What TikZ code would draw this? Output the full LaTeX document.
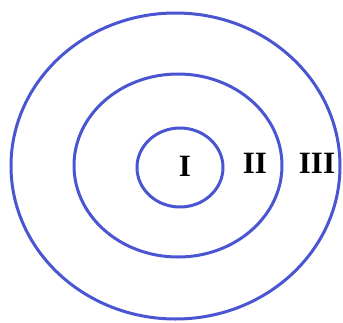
\documentclass[tikz,border=0pt]{standalone}
\usepackage{fontspec}
\setmainfont{Liberation Serif}
\usetikzlibrary{positioning}
\definecolor{ringblue}{HTML}{4A55D2}
\tikzset{
  ring/.style={draw=ringblue, line width=3pt},
  zone/.style={font=\bfseries\fontsize{31}{31}\selectfont, text=black, inner sep=0pt}
}
\begin{document}
\begin{tikzpicture}[x=1pt,y=-1pt]
  \useasboundingbox (0,0) rectangle (343,322);
  % rings
  \coordinate (outerc) at (175.5,166);
  \coordinate (middlec) at (178,165.5);
  \coordinate (innerc) at (180,167.5);
  \draw[ring] (outerc) ellipse (164.5 and 153);
  \draw[ring] (middlec) ellipse (104 and 91.5);
  \draw[ring] (innerc) ellipse (43 and 39.5);

  % zone labels
  \node[zone] (one) at (185,166.5) {I};
  \node[zone] (two) at (255,163.5) {II};
  \node[zone] (three) at (317,163.5) {III};
\end{tikzpicture}
\end{document}
